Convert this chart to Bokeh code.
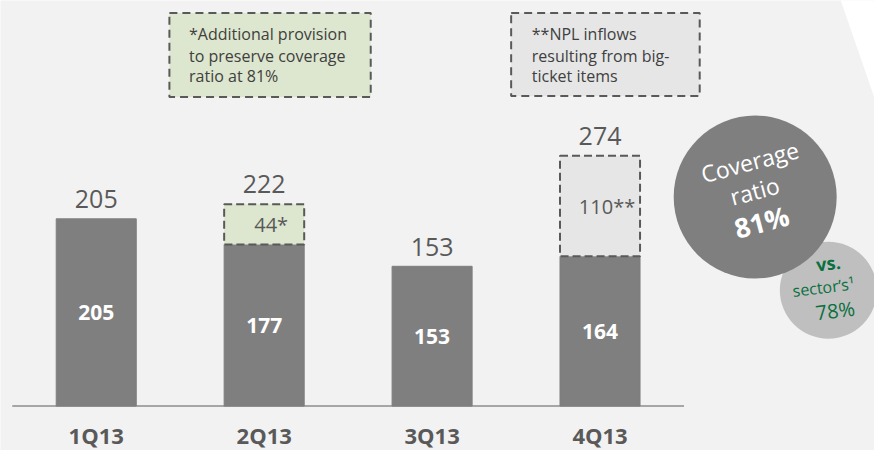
from bokeh.plotting import figure
from bokeh.models import Range1d
from bokeh.core.properties import value
from bokeh.embed import file_html
from bokeh.resources import INLINE

# ---- data ----
quarters = ["1Q13", "2Q13", "3Q13", "4Q13"]
base_values = [205, 177, 153, 164]
extra_values = [0, 44, 0, 110]
extra_marks = ["", "*", "", "**"]
totals = [205, 222, 153, 274]
coverage_ratio = 81
sector_ratio = 78
note_provision = ["*Additional provision", "to preserve coverage", "ratio at 81%"]
note_npl = ["**NPL inflows", "resulting from big-", "ticket items"]

xs = [i + 0.5 for i in range(len(quarters))]

# ---- layout helpers (reference-image pixel -> data) ----
PX_PER_CAT = 171.0
PX_PER_UNIT = 0.946
X0, Y0 = 12.0, 420.0


def X(px):
    return (px - X0) / PX_PER_CAT


def Y(py):
    return (Y0 - py) / PX_PER_UNIT


FONT = value("Open Sans")
DARK = "#595959"
BAR = "#7F7F7F"
GREEN_FILL = "#DDE6CE"
GRAY_FILL = "#E6E6E6"
GREEN_TXT = "#0A7040"

p = figure(width=874, height=450, output_backend="svg", toolbar_location=None,
           x_range=Range1d(X(0), X(890)), y_range=Range1d(Y(466), Y(0)),
           x_axis_location=None, y_axis_location=None, min_border=0)
p.grid.visible = False
p.outline_line_color = None
p.background_fill_color = "#F2F2F2"
p.border_fill_color = "#F2F2F2"

# white wedge top right
p.patch(x=[X(855), X(905), X(905)], y=[Y(-2), Y(-2), Y(145)],
        fill_color="white", line_color=None)

# baseline
p.segment(x0=[0], x1=[len(quarters)], y0=[0], y1=[0], line_color="#A6A6A6", line_width=2)

# base bars
bar_w = 81.5 / PX_PER_CAT
p.vbar(x=xs, width=bar_w, bottom=0, top=base_values, fill_color=BAR, line_color=BAR)

# extra dashed boxes
ex_x = [x for x, e in zip(xs, extra_values) if e > 0]
ex_b = [b for b, e in zip(base_values, extra_values) if e > 0]
ex_t = [b + e for b, e in zip(base_values, extra_values) if e > 0]
ex_c = [GREEN_FILL if m == "*" else GRAY_FILL for m, e in zip(extra_marks, extra_values) if e > 0]
ex_lbl = [f"{e}{m}" for e, m in zip(extra_values, extra_marks) if e > 0]
p.vbar(x=ex_x, width=bar_w, bottom=ex_b, top=ex_t, fill_color=ex_c,
       line_color=DARK, line_width=2, line_dash="8 4")
p.text(x=ex_x, y=[(b + t) / 2 for b, t in zip(ex_b, ex_t)], text=ex_lbl,
       x_offset=7, text_align="center", text_baseline="middle",
       text_font=FONT, text_font_size="20px", text_color=DARK)

# inner labels
p.text(x=xs, y=[b / 2 for b in base_values], text=[str(b) for b in base_values],
       text_align="center", text_baseline="middle", text_font=FONT,
       text_font_size="21px", text_font_style="bold", text_color="white")

# totals
p.text(x=xs, y=[t + 20 / PX_PER_UNIT for t in totals], text=[str(t) for t in totals],
       text_align="center", text_baseline="middle", text_font=FONT,
       text_font_size="25px", text_color=DARK)

# category labels
p.text(x=xs, y=[Y(450)] * len(xs), text=quarters, text_align="center",
       text_baseline="middle", text_font=FONT, text_font_size="22px",
       text_font_style="bold", text_color=DARK)

# note boxes
p.quad(left=[X(172), X(520)], right=[X(377), X(712)], top=[Y(13), Y(13)],
       bottom=[Y(100), Y(99)], fill_color=[GREEN_FILL, GRAY_FILL],
       line_color=DARK, line_width=2, line_dash="8 5")
line_ys = [35, 57, 78]
p.text(x=[X(192)] * 3, y=[Y(v) for v in line_ys], text=note_provision,
       text_align="left", text_baseline="middle", text_font=FONT,
       text_font_size="16px", text_color="#404040")
p.text(x=[X(541)] * 3, y=[Y(v) for v in line_ys], text=note_npl,
       text_align="left", text_baseline="middle", text_font=FONT,
       text_font_size="16px", text_color="#404040")

# circles
p.scatter(x=[X(843)], y=[Y(300)], size=97, marker="circle",
          fill_color="#BFBFBF", line_color=None)
p.scatter(x=[X(768.5)], y=[Y(203.5)], size=163, marker="circle",
          fill_color=BAR, line_color=None)

ang = 0.26
p.text(x=[X(763), X(768)], y=[Y(167), Y(197)], text=["Coverage", "ratio"],
       angle=ang, text_align="center", text_baseline="middle", text_font=FONT,
       text_font_size="23px", text_color="white")
p.text(x=[X(775)], y=[Y(229)], text=[f"{coverage_ratio}%"], angle=ang,
       text_align="center", text_baseline="middle", text_font=FONT,
       text_font_size="27px", text_font_style="bold", text_color="white")

ang2 = 0.12
p.text(x=[X(843)], y=[Y(272)], text=["vs."], angle=ang2, text_align="center",
       text_baseline="middle", text_font=FONT, text_font_size="18px",
       text_font_style="bold", text_color=GREEN_TXT)
p.text(x=[X(838)], y=[Y(297)], text=["sector\u2019s\u00b9"], angle=ang2,
       text_align="center", text_baseline="middle", text_font=FONT,
       text_font_size="16px", text_color=GREEN_TXT)
p.text(x=[X(850)], y=[Y(321)], text=[f"{sector_ratio}%"], angle=ang2,
       text_align="center", text_baseline="middle", text_font=FONT,
       text_font_size="20px", text_color=GREEN_TXT)

open("out.html", "w").write(file_html(p, INLINE))
